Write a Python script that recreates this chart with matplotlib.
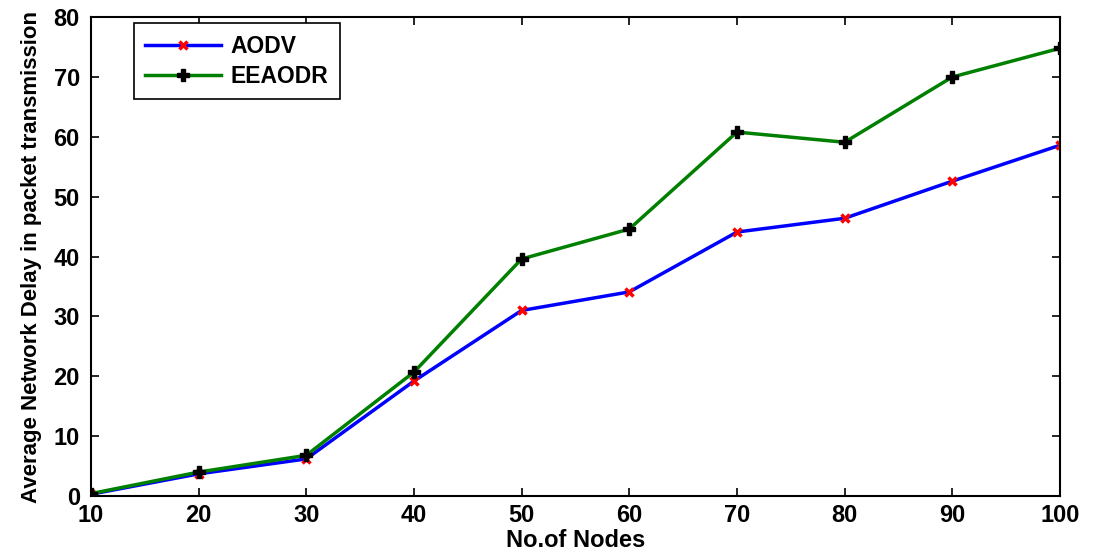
import matplotlib
matplotlib.use("Agg")
import matplotlib.pyplot as plt

plt.rcParams['font.family'] = ['Liberation Sans', 'DejaVu Sans']
plt.rcParams['font.weight'] = 'bold'

nodes = [10, 20, 30, 40, 50, 60, 70, 80, 90, 100]
aodv = [0.3, 3.7, 6.2, 19.2, 31.0, 34.1, 44.1, 46.4, 52.6, 58.6]
eeaodr = [0.4, 4.0, 6.8, 20.7, 39.6, 44.6, 60.8, 59.1, 70.0, 74.8]

fig = plt.figure(figsize=(10.95, 5.53), dpi=100)
ax = fig.add_axes([0.083, 0.103, 0.885, 0.866])

ax.plot(nodes, aodv, color='blue', lw=2.5, marker='x', ms=6, mec='red', mew=2.5, label='AODV')
ax.plot(nodes, eeaodr, color='green', lw=2.5, marker='P', ms=8, mec='black', mfc='black', label='EEAODR')

ax.set_xlim(10, 100)
ax.set_ylim(0, 80)
ax.set_xticks(nodes)
ax.set_yticks(range(0, 81, 10))
ax.tick_params(direction='in', top=True, right=True, labelsize=17, length=6, width=1.2)
ax.tick_params(axis='x', pad=6)
ax.tick_params(axis='y', pad=8)
for lbl in ax.get_xticklabels() + ax.get_yticklabels():
    lbl.set_fontweight('bold')
for s in ax.spines.values():
    s.set_linewidth(1.5)

ax.set_xlabel('No.of Nodes', fontsize=17, fontweight='bold', labelpad=1)
ax.set_ylabel('Average Network Delay in packet transmission', fontsize=16, fontweight='bold', labelpad=8)

leg = ax.legend(loc='upper left', bbox_to_anchor=(0.044, 0.987), borderaxespad=0, fancybox=False,
                edgecolor='black', framealpha=1, handlelength=3.3, handletextpad=0.45,
                borderpad=0.5, labelspacing=0.3, prop={'weight': 'bold', 'size': 16.5})
leg.get_frame().set_linewidth(1.2)

fig.savefig('out.png', dpi=100)
